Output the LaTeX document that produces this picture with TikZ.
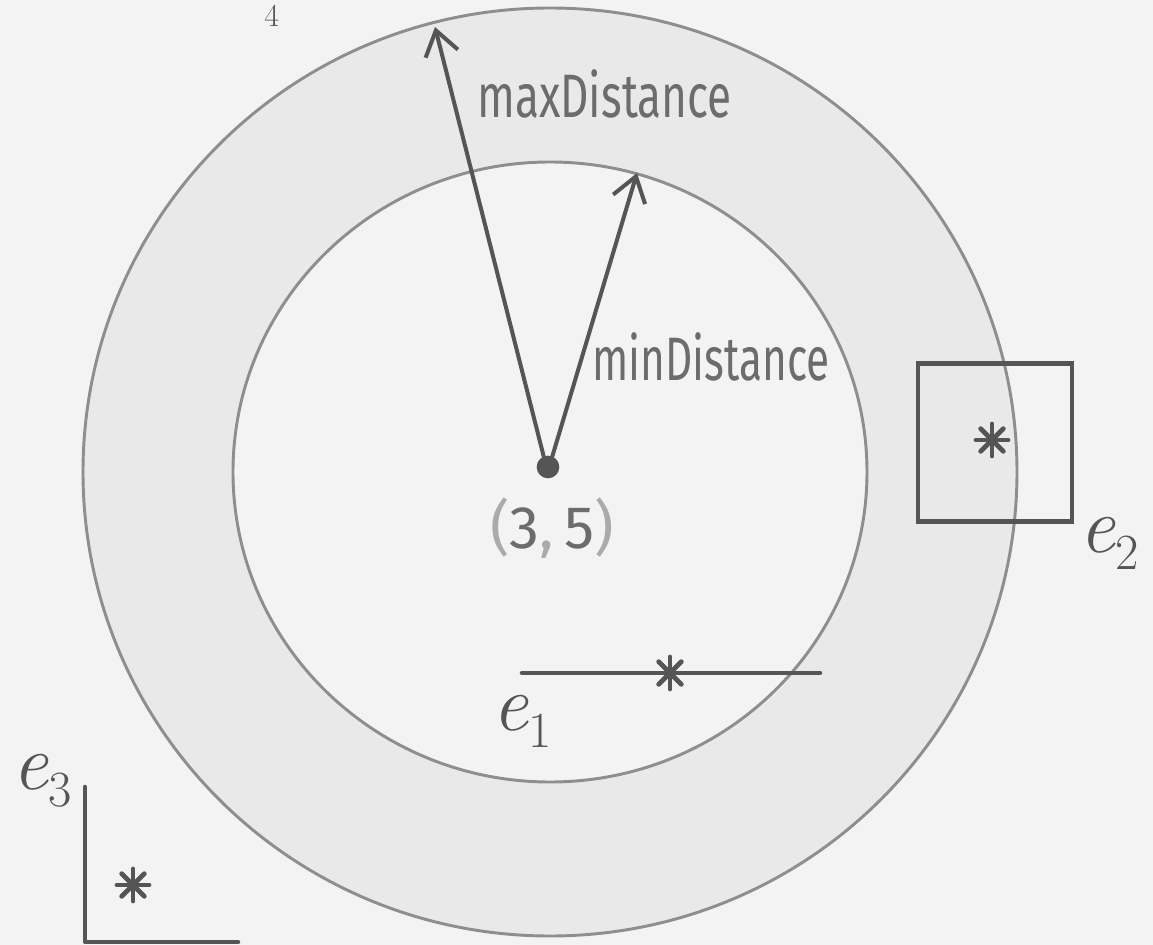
\documentclass[tikz,border=0pt]{standalone}
\usepackage{fontspec}
\newfontfamily\hand{Fira Sans}
\usetikzlibrary{arrows.meta}
\definecolor{paper}{HTML}{F3F3F3}
\definecolor{ring}{HTML}{E9E9E9}
\definecolor{pencil}{HTML}{8E8E8E}
\definecolor{ink}{HTML}{555555}
\definecolor{txt}{HTML}{6C6C6C}
\definecolor{light}{HTML}{AAAAAA}
\newcommand{\esub}[1]{{\itshape e}\raisebox{-0.22em}{\fontsize{38}{38}\selectfont #1}}
\begin{document}
\begin{tikzpicture}[x=0.75pt,y=-0.75pt,
  circ/.style={draw=pencil,line width=2.2pt},
  inkline/.style={draw=ink,line width=3.4pt,line cap=round,line join=round},
  radiusarrow/.style={inkline,line width=3pt,-{Straight Barb[length=18pt,width=25pt]}},
  inkbox/.style={draw=ink,line width=3.6pt,minimum width=115.5pt,minimum height=119pt,inner sep=0pt},
  lbl/.style={text=txt,font=\hand\fontsize{46}{46}\selectfont,inner sep=0pt},
  elbl/.style={text=ink,font=\fontsize{60}{60}\selectfont,inner sep=0pt},
  asterisk/.pic={\foreach \a in {0,45,90,135}{\draw[ink,line width=3.6pt,line cap=round] (\a:16) -- (\a+180:16);}},
]
\fill[paper] (0,0) rectangle (1153,945);
\useasboundingbox (0,0) rectangle (1153,945);
\coordinate (c) at (550,472);
% shaded ring
\fill[ring,even odd rule] (c) ellipse [x radius=467,y radius=464] (c) ellipse [x radius=317,y radius=310];
% circles
\draw[circ] (c) ellipse [x radius=467,y radius=464];
\draw[circ] (c) ellipse [x radius=317,y radius=310];
% center point
\node[circle,fill=ink,minimum size=17pt,inner sep=0pt] (ctr) at (548,467) {};
\node[anchor=base,inner sep=0pt,font=\hand\fontsize{45}{45}\selectfont] (ctrlbl) at (552,548)
  {\textcolor{light}{(}\textcolor{txt}{3}\textcolor{light}{,\,}\textcolor{txt}{5}\textcolor{light}{)}};
% radius arrows
\coordinate (maxtip) at (435,27);
\coordinate (mintip) at (637,173);
\draw[radiusarrow] (ctr.112) -- (maxtip);
\draw[radiusarrow] (ctr.68) -- (mintip);
\node[lbl,anchor=base west] (maxlbl) at (477,118) {\scalebox{0.72}[1]{maxDistance}};
\node[lbl,anchor=base west] (minlbl) at (592,380) {\scalebox{0.69}[1]{minDistance}};
% e2 : box
\node[inkbox] (e2box) at (995,442.5) {};
\pic at (992,440) {asterisk};
\node[elbl,anchor=base west] (e2lbl) at (1079,552) {\esub{2}};
% e1 : segment
\coordinate (l1a) at (522,673);
\coordinate (l1b) at (820,673);
\draw[inkline] (l1a) -- (l1b);
\pic at (670,673) {asterisk};
\node[elbl,anchor=base west] (e1lbl) at (492,730) {\esub{1}};
% e3 : corner
\coordinate (l3a) at (85,787);
\coordinate (l3b) at (85,942);
\coordinate (l3c) at (238,942);
\draw[inkline] (l3a) -- (l3b) -- (l3c);
\pic at (133,885) {asterisk};
\node[elbl,anchor=base west] (e3lbl) at (12,789) {\esub{3}};
% e4 (only its subscript shows at the top edge)
\node[text=ink,font=\fontsize{24}{24}\selectfont,inner sep=0pt,anchor=base west] (e4lbl) at (264,27) {4};
\end{tikzpicture}
\end{document}
